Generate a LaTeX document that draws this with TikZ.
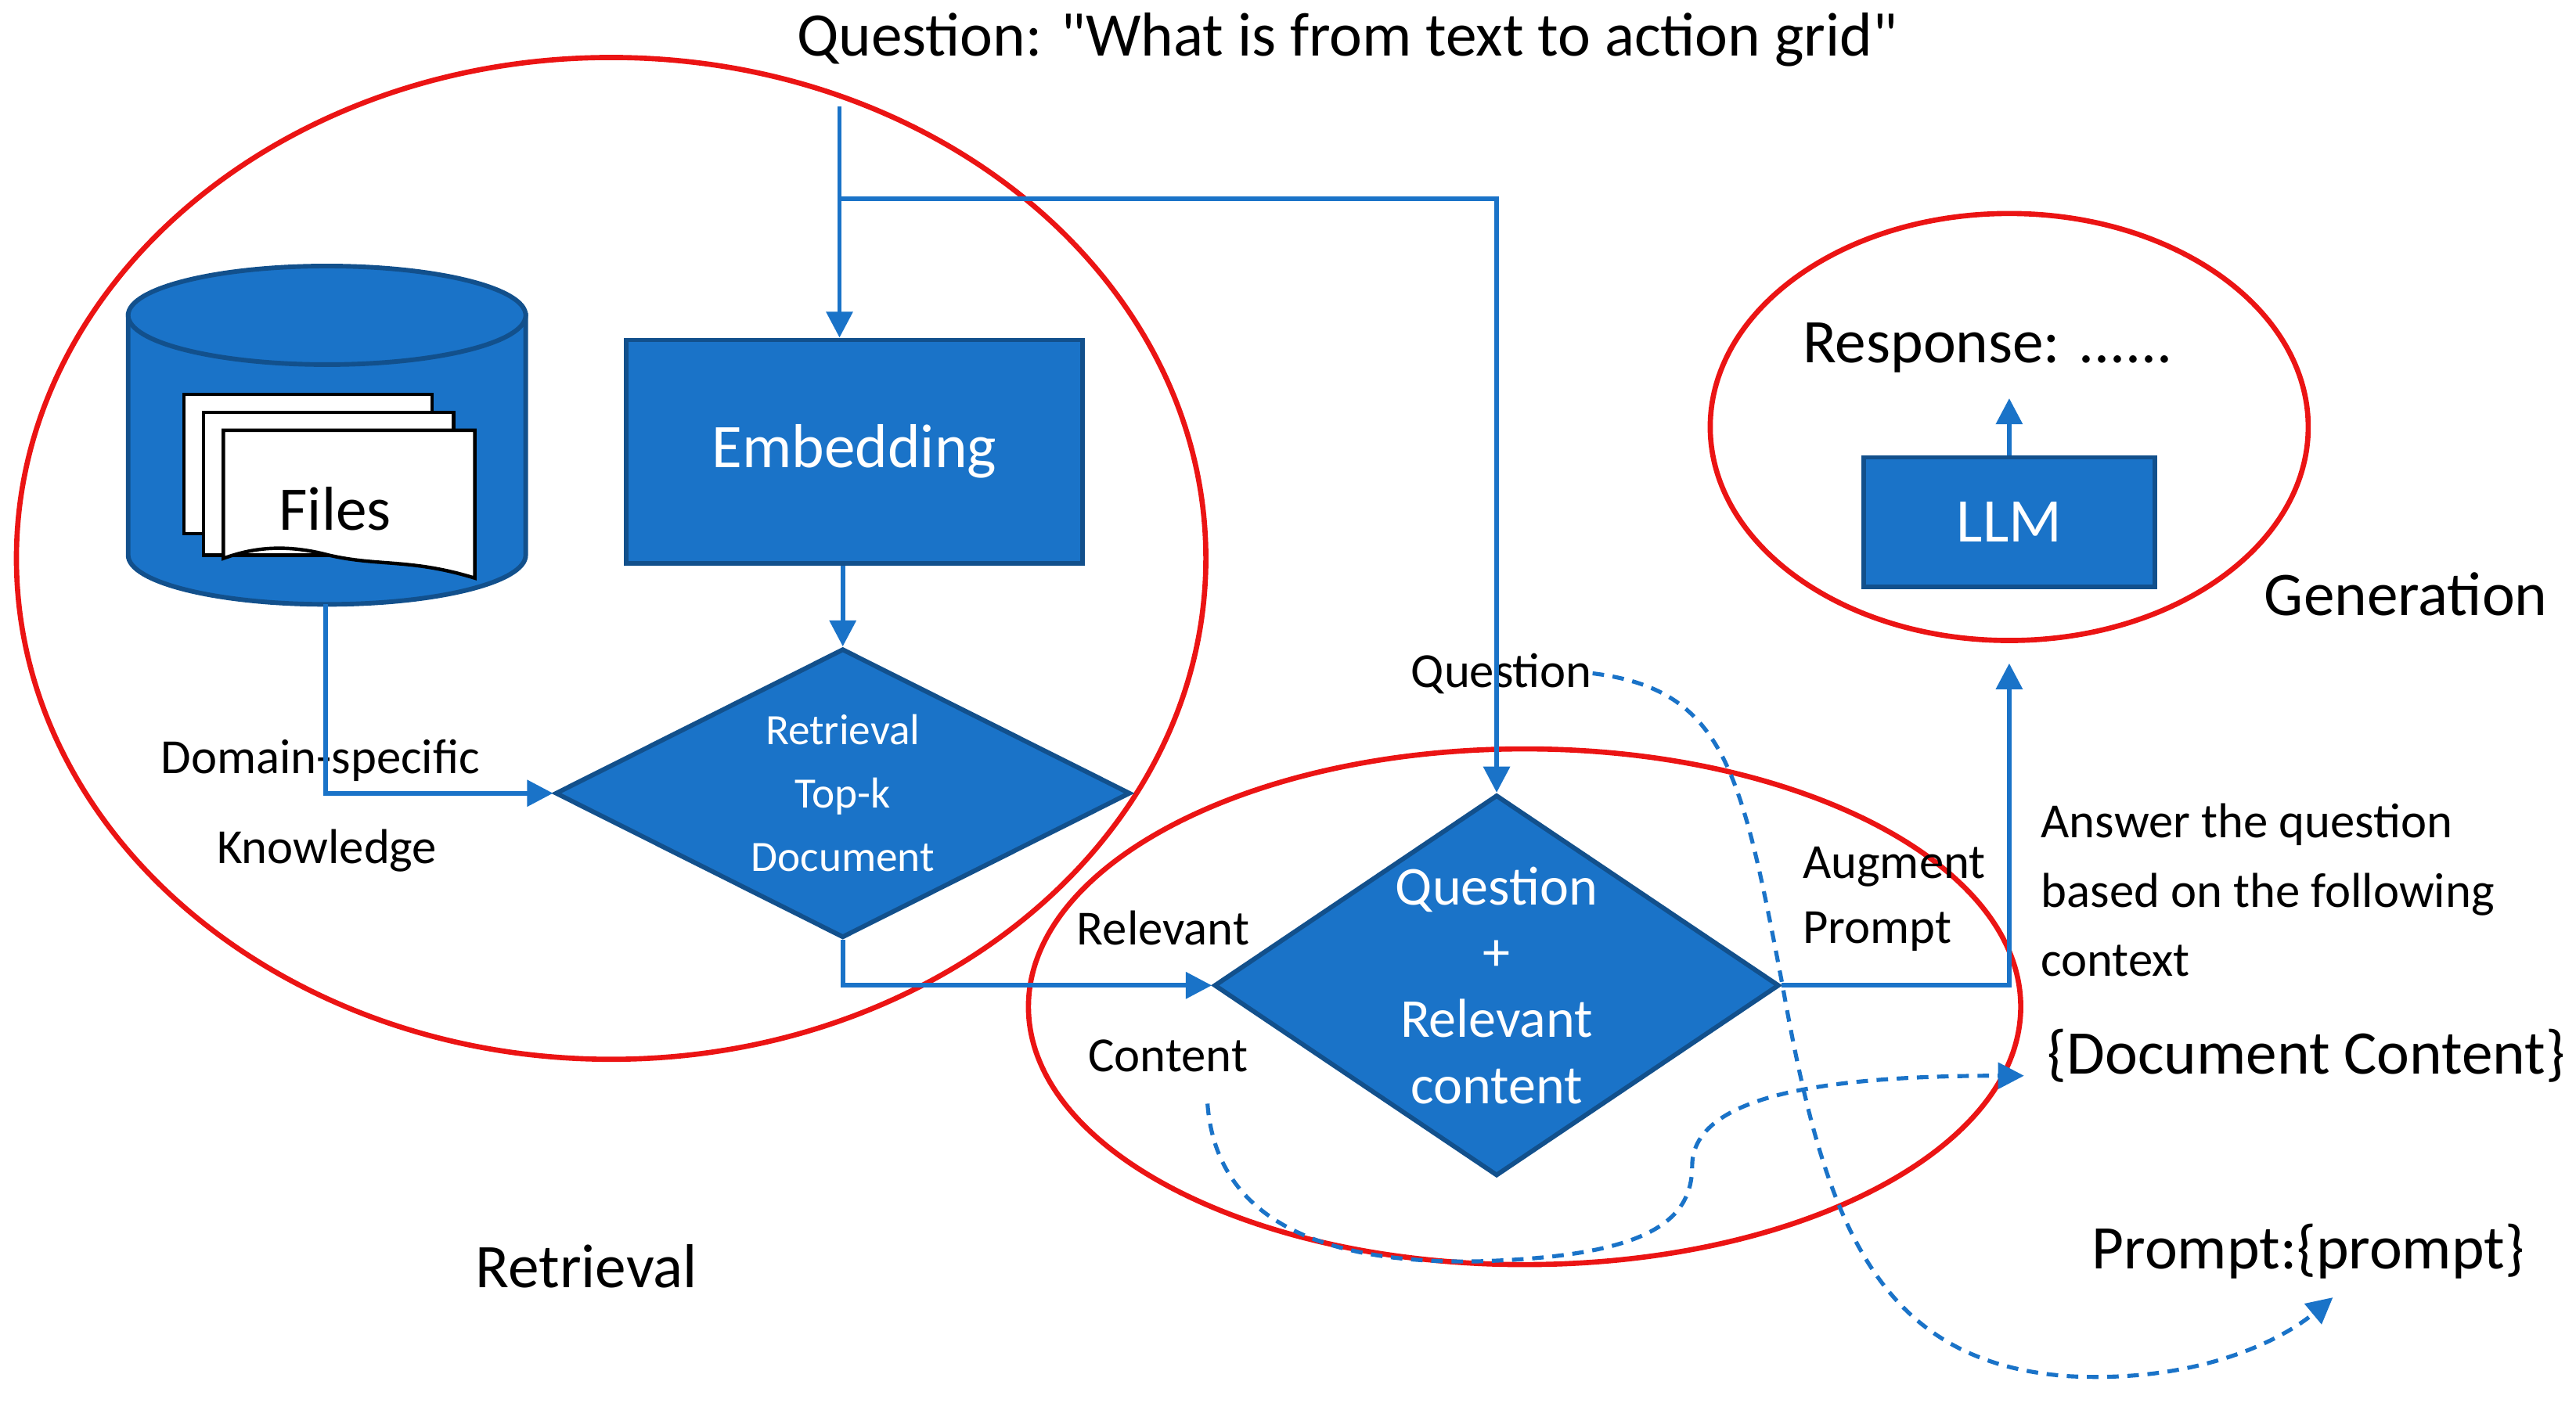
\documentclass[tikz,border=0pt]{standalone}
\usepackage{fontspec}
\setmainfont{Carlito}[Ligatures=TeXOff]
\usetikzlibrary{arrows.meta, positioning, shapes.geometric}
\definecolor{rblue}{RGB}{26,115,200}
\definecolor{rred}{RGB}{235,20,20}

\begin{document}
\begin{tikzpicture}[x=0.02cm,y=-0.02cm,>={Triangle[length=9pt,width=9pt]},
        flow/.style={draw=rblue,line width=1.6pt},
        dflow/.style={draw=rblue,line width=1.4pt,dash pattern=on 4pt off 3pt},
        bluebox/.style={draw=rblue!70!black,fill=rblue,line width=1.6pt,text=white},
        area/.style={draw=rred,line width=1.8pt},
        lbl/.style={font=\fontsize{17}{20}\selectfont,inner sep=0pt},
        big/.style={font=\fontsize{21.5}{26}\selectfont,inner sep=0pt}]
    \useasboundingbox (0,0) rectangle (1568,854);

    % areas
    \draw[area] (372,340) ellipse [x radius=362,y radius=305];
    \draw[area] (928,613) ellipse [x radius=302,y radius=157];
    \draw[area] (1223,260) ellipse [x radius=182,y radius=130];

    % cylinder with files
    \draw[bluebox] (78,192) -- (78,338) arc[start angle=180,end angle=0,x radius=121,y radius=30]
        -- (320,192) -- cycle;
    \draw[bluebox] (199,192) ellipse [x radius=121,y radius=30];
    \draw[fill=white,line width=1.2pt] (112,240) rectangle (263,325);
    \draw[fill=white,line width=1.2pt] (124,251) rectangle (276,338);
    \draw[fill=white,line width=1.2pt] (136,262) -- (289,262) -- (289,352)
        .. controls (250,340) and (230,345) .. (200,338)
        .. controls (170,330) and (150,335) .. (136,340) -- cycle;
    \node[big] (files) at (204,310) {Files};
    \coordinate (cylbot) at (198,368);

    % blocks
    \node[bluebox,minimum width=278*0.02cm,minimum height=136*0.02cm,big] (emb) at (520,275) {Embedding};
    \node[bluebox,diamond,aspect=2,minimum width=350*0.02cm,minimum height=176*0.02cm,inner sep=0pt] (retr) at (513,483) {};
    \node[align=center,text=white,font=\fontsize{15}{22}\selectfont] (retrt) at (retr) {Retrieval\\Top-k\\Document};
    \node[bluebox,diamond,aspect=1.48,minimum width=344*0.02cm,minimum height=232*0.02cm,inner sep=0pt] (aug) at (911,600) {};
    \node[align=center,text=white,font=\fontsize{19}{23}\selectfont] (augt) at (aug) {Question\\+\\Relevant\\content};
    \node[bluebox,minimum width=177*0.02cm,minimum height=79*0.02cm,big] (llm) at (1223,318) {LLM};

    % texts
    \node[big] (title) at (820,24) {Question: "What is from text to action grid"};
    \node[big] (resp) at (1210,212) {Response: ......};
    \node[lbl] (dom) at (195,463) {Domain-specific};
    \node[lbl] (know) at (199,518) {Knowledge};
    \node[lbl] (rel) at (708,565) {Relevant};
    \node[lbl] (cont) at (711,643) {Content};
    \node[lbl] (qlbl) at (914,410) {Question};
    \node[lbl,anchor=west] (augl) at (1097,528) {Augment};
    \node[lbl,anchor=west] (prl) at (1097,567) {Prompt};
    \node[lbl,anchor=west,align=left,font=\fontsize{17}{24}\selectfont] (ans) at (1242,542)
        {Answer the question\\based on the following\\context};
    \node[big,anchor=west] (doc) at (1246,643) {\{Document Content\}};
    \node[big,anchor=west] (prm) at (1273,762) {Prompt:\{prompt\}};
    \node[big,anchor=west] (gen) at (1378,362) {Generation};
    \node[big] (retl) at (357,771) {Retrieval};

    % connectors
    \coordinate (qtop) at (511,65);
    \coordinate (split) at (511,121);
    \draw[flow,->] (qtop) -- (emb.north -| split);
    \draw[flow,->] (split) -| (aug.north);
    \draw[flow,->] (emb.south -| retr.north) -- (retr.north);
    \draw[flow,->] (cylbot) |- (retr.west);
    \draw[flow,->] (retr.south) |- (aug.west);
    \draw[flow,->] (aug.east) -| ([yshift=-0.9cm]llm.south);
    \draw[flow,->] (llm.north) -- ([yshift=-0.3cm]resp.south -| llm.north);

    % dashed
    \coordinate (d1) at (1420,790);
    \coordinate (d2) at (1232,655);
    \draw[dflow,->] (qlbl.east) .. controls (1050,420) and (1060,470) .. (1085,600)
        .. controls (1110,740) and (1140,830) .. (1260,838)
        .. controls (1340,842) and (1390,815) .. (d1);
    \draw[dflow,->] (735,672) .. controls (740,740) and (800,770) .. (900,768)
        .. controls (1000,765) and (1030,745) .. (1030,710)
        .. controls (1030,670) and (1100,655) .. (d2);
\end{tikzpicture}
\end{document}
